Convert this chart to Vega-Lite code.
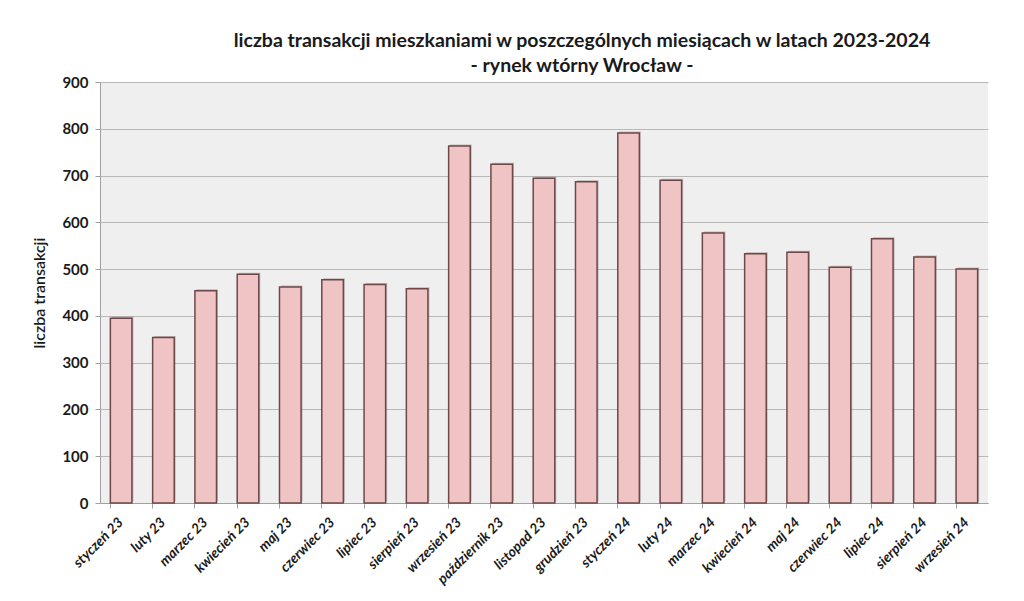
{
  "$schema": "https://vega.github.io/schema/vega-lite/v6.json",
  "autosize": "none",
  "width": 888,
  "height": 421,
  "padding": {"left": 100, "top": 82, "right": 36, "bottom": 98},
  "background": "#ffffff",
  "title": {
    "text": ["liczba transakcji mieszkaniami w poszczególnych miesiącach w latach 2023-2024", "- rynek wtórny Wrocław -"],
    "anchor": "middle",
    "dx": 38,
    "offset": -1,
    "font": "Lato, sans-serif",
    "fontSize": 19.5,
    "fontWeight": "bold",
    "lineHeight": 25,
    "color": "#1a1a1a"
  },
  "data": {
    "values": [
      {"miesiac": "styczeń 23", "liczba": 395},
      {"miesiac": "luty 23", "liczba": 354},
      {"miesiac": "marzec 23", "liczba": 454},
      {"miesiac": "kwiecień 23", "liczba": 489},
      {"miesiac": "maj 23", "liczba": 462},
      {"miesiac": "czerwiec 23", "liczba": 477},
      {"miesiac": "lipiec 23", "liczba": 467},
      {"miesiac": "sierpień 23", "liczba": 458},
      {"miesiac": "wrzesień 23", "liczba": 763},
      {"miesiac": "październik 23", "liczba": 724},
      {"miesiac": "listopad 23", "liczba": 694},
      {"miesiac": "grudzień 23", "liczba": 687},
      {"miesiac": "styczeń 24", "liczba": 791},
      {"miesiac": "luty 24", "liczba": 690},
      {"miesiac": "marzec 24", "liczba": 577},
      {"miesiac": "kwiecień 24", "liczba": 533},
      {"miesiac": "maj 24", "liczba": 536},
      {"miesiac": "czerwiec 24", "liczba": 504},
      {"miesiac": "lipiec 24", "liczba": 565},
      {"miesiac": "sierpień 24", "liczba": 526},
      {"miesiac": "wrzesień 24", "liczba": 500}
    ]
  },
  "encoding": {
    "x": {
      "field": "miesiac",
      "type": "nominal",
      "sort": null,
      "title": null,
      "scale": {"paddingInner": 0.49},
      "axis": {
        "labelAngle": -45,
        "labelAlign": "right",
        "labelBaseline": "middle",
        "labelFont": "Lato, sans-serif",
        "labelFontSize": 14,
        "labelFontStyle": "italic",
        "labelFontWeight": "bold",
        "labelColor": "#1a1a1a",
        "labelPadding": 12,
        "bandPosition": 0,
        "tickSize": 5,
        "tickColor": "#a0a0a0",
        "domainColor": "#a0a0a0",
        "grid": false
      }
    },
    "y": {
      "field": "liczba",
      "type": "quantitative",
      "title": "liczba transakcji",
      "scale": {"domain": [0, 900]},
      "axis": {
        "values": [0, 100, 200, 300, 400, 500, 600, 700, 800, 900],
        "labelFont": "Lato, sans-serif",
        "labelFontSize": 15,
        "labelFontWeight": "bold",
        "labelColor": "#1a1a1a",
        "labelPadding": 7,
        "tickSize": 5,
        "tickColor": "#a0a0a0",
        "domainColor": "#a0a0a0",
        "gridColor": "#b8b8b8",
        "titleFont": "Lato, sans-serif",
        "titleFontSize": 16,
        "titleFontWeight": 600,
        "titleColor": "#1a1a1a",
        "titlePadding": 14
      }
    }
  },
  "layer": [
    {
      "mark": {
        "type": "bar",
        "fill": "#5a3a3a",
        "opacity": 0.3,
        "xOffset": 1.5,
        "yOffset": -1.5
      }
    },
    {
      "mark": {
        "type": "bar",
        "fill": "#f0c4c4",
        "stroke": "#6e4848",
        "strokeWidth": 1.5
      }
    }
  ],
  "config": {
    "view": {"fill": "#efefef", "stroke": null}
  }
}
